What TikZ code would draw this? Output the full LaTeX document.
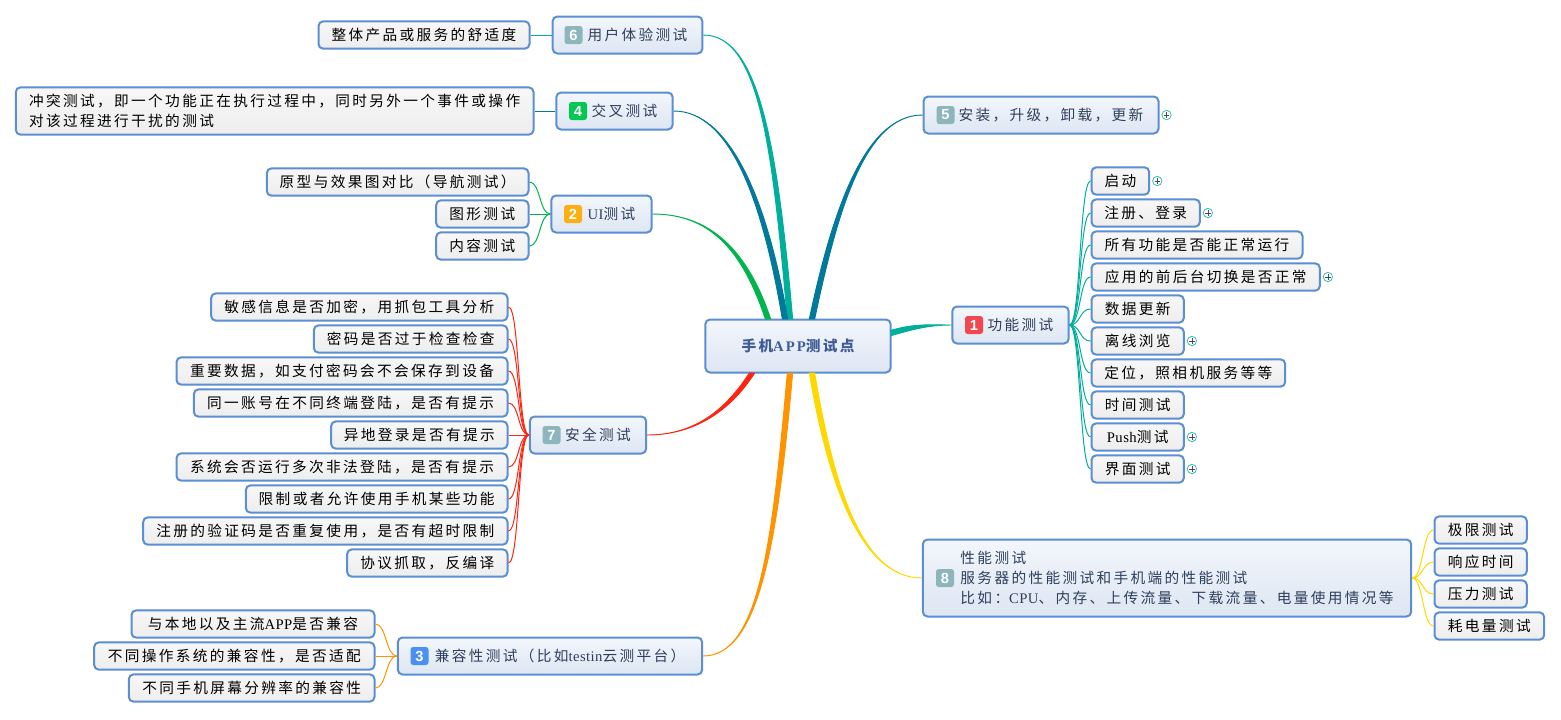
\documentclass[tikz,border=0pt]{standalone}
\usepackage{fontspec}
\usetikzlibrary{positioning}
\setmainfont{Noto Sans CJK SC}[LetterSpace=16]
\newfontfamily\latfont{Liberation Serif}[LetterSpace=3]
\newfontfamily\latwide{Liberation Serif}[LetterSpace=14]
\newfontfamily\badgefont{Liberation Sans}
\newcommand{\lat}[1]{{\latfont #1}}
\newcommand{\gap}{\hspace*{15pt}}
% tapered thick branch: colour, root point, two shifts, target, two controls
\newcommand{\limb}[7]{\draw[#1, fill=#1, line width=.7pt]
  ([#3]#2) .. controls ([#3]#6) and (#7) .. (#5) .. controls (#7) and ([#4]#6) .. ([#4]#2) -- cycle;}

\definecolor{edgeblue}{HTML}{5B8ED2}
\definecolor{subtext}{HTML}{2E3F5C}
\definecolor{roottext}{HTML}{3F5C96}
\definecolor{cteal}{HTML}{00AE9C}
\definecolor{cpetrol}{HTML}{00799A}
\definecolor{cgreen}{HTML}{00B44E}
\definecolor{cred}{HTML}{FF2410}
\definecolor{corange}{HTML}{FF9300}
\definecolor{cyellow}{HTML}{FFD800}
\definecolor{bred}{HTML}{F0484E}
\definecolor{bgrey}{HTML}{8DB6BC}
\definecolor{bgreen}{HTML}{00C853}
\definecolor{borange}{HTML}{FFAE12}
\definecolor{bblue}{HTML}{4A90F0}
\definecolor{subtop}{HTML}{F3F6FC}
\definecolor{subbot}{HTML}{DDE6F2}
\definecolor{foldteal}{HTML}{35BFAE}

\tikzstyle{every node}=[rounded corners=3.5pt, inner xsep=2pt, inner ysep=1pt,
                        font=\fontsize{11pt}{15pt}\selectfont]
\tikzstyle{root}=[draw=edgeblue, line width=1.5pt, top color=subtop,
                  bottom color=subbot, minimum width=139pt, minimum height=39.75pt,
                  text=roottext, font=\fontsize{11pt}{15pt}\selectfont\bfseries]
\tikzstyle{sub}=[draw=edgeblue, line width=1.5pt, top color=subtop,
                 bottom color=subbot, minimum height=27.75pt, text=subtext]
\tikzstyle{leaf}=[draw=edgeblue, line width=1.5pt, top color=white!97!black, bottom color=black!7,
                  minimum height=20.5pt, text=black]
\tikzstyle{badge}=[rounded corners=2pt, minimum size=13.5pt, inner sep=0pt, text=white,
                   font=\badgefont\fontsize{11pt}{11pt}\selectfont\bfseries]
\tikzstyle{fold}=[circle, draw=foldteal, fill=white, line width=.6pt, minimum size=7pt, inner sep=0pt,
                  path picture={\draw[black!70, line width=.5pt]
                    ([xshift=-2pt]path picture bounding box.center) -- ([xshift=2pt]path picture bounding box.center)
                    ([yshift=-2pt]path picture bounding box.center) -- ([yshift=2pt]path picture bounding box.center);}]
\tikzstyle{twig}=[line width=.75pt]

\begin{document}
\begin{tikzpicture}[x=.75pt,y=-.75pt]
  \useasboundingbox (0,0) rectangle (1561,719);

  \node[root] (test) at (798,346) {手机{\latwide APP}测试点};

  \node[sub, minimum width=87.25pt] (func) at (1010.5,325) {\gap 功能测试};
  \node[sub, minimum width=176.25pt] (inst) at (1041,115) {\gap 安装，升级，卸载，更新};
  \node[sub, minimum width=366.25pt, minimum height=57.75pt, align=left] (perf) at (1167,578)
    {\gap 性能测试\\\gap 服务器的性能测试和手机端的性能测试\\\gap 比如：\lat{CPU}、内存、上传流量、下载流量、电量使用情况等};
  \node[sub, minimum width=112.25pt] (user) at (627.5,35) {\gap 用户体验测试};
  \node[sub, minimum width=87.25pt] (cross) at (614.5,111) {\gap 交叉测试};
  \node[sub, minimum width=75.25pt] (ui) at (601.5,214) {\gap \lat{UI}测试};
  \node[sub, minimum width=87.25pt] (safe) at (588,435) {\gap 安全测试};
  \node[sub, minimum width=228.25pt] (comp) at (550,656) {\gap 兼容性测试（比如\lat{testin}云测平台）};

  \node[badge, fill=bred] (b1) at (974,325) {1};
  \node[badge, fill=bgrey] (b5) at (945.5,115) {5};
  \node[badge, fill=bgrey] (b8) at (945,578) {8};
  \node[badge, fill=bgrey] (b6) at (573.5,35) {6};
  \node[badge, fill=bgreen] (b4) at (578,111) {4};
  \node[badge, fill=borange] (b2) at (573,214) {2};
  \node[badge, fill=bgrey] (b7) at (551.5,435) {7};
  \node[badge, fill=bblue] (b3) at (419.5,656) {3};

  \node[leaf, anchor=west, minimum width=43.25pt] (f1) at (1090.5,181) {启动};
  \node[leaf, anchor=west, minimum width=81.25pt] (f2) at (1090.5,213) {注册、登录};
  \node[leaf, anchor=west, minimum width=158.25pt] (f3) at (1090.5,245) {所有功能是否能正常运行};
  \node[leaf, anchor=west, minimum width=171.25pt] (f4) at (1090.5,277) {应用的前后台切换是否正常};
  \node[leaf, anchor=west, minimum width=69.25pt] (f5) at (1090.5,309) {数据更新};
  \node[leaf, anchor=west, minimum width=69.25pt] (f6) at (1090.5,341) {离线浏览};
  \node[leaf, anchor=west, minimum width=145.25pt] (f7) at (1090.5,373) {定位，照相机服务等等};
  \node[leaf, anchor=west, minimum width=69.25pt] (f8) at (1090.5,405) {时间测试};
  \node[leaf, anchor=west, minimum width=69.25pt] (f9) at (1090.5,437) {\lat{Push}测试};
  \node[leaf, anchor=west, minimum width=69.25pt] (f10) at (1090.5,469) {界面测试};

  \node[fold, right=1.5pt of f1] (p1) {};
  \node[fold, right=1.5pt of f2] (p2) {};
  \node[fold, right=1.5pt of f4] (p4) {};
  \node[fold, right=1.5pt of f6] (p6) {};
  \node[fold, right=1.5pt of f9] (p9) {};
  \node[fold, right=1.5pt of f10] (p10) {};
  \node[fold, right=1.5pt of inst] (p0) {};

  \node[leaf, anchor=west, minimum width=69.25pt] (e1) at (1433.5,530) {极限测试};
  \node[leaf, anchor=west, minimum width=69.25pt] (e2) at (1433.5,562) {响应时间};
  \node[leaf, anchor=west, minimum width=69.25pt] (e3) at (1433.5,594) {压力测试};
  \node[leaf, anchor=west, minimum width=82.25pt] (e4) at (1433.5,626) {耗电量测试};

  \node[leaf, anchor=east, minimum width=158.25pt] (u1) at (530.5,35) {整体产品或服务的舒适度};
  \node[leaf, anchor=east, minimum width=388.25pt, minimum height=35.5pt, align=left] (x1) at (534.5,111)
    {冲突测试，即一个功能正在执行过程中，同时另外一个事件或操作\\对该过程进行干扰的测试};

  \node[leaf, anchor=east, minimum width=196.25pt] (g1) at (529.5,182) {原型与效果图对比（导航测试）};
  \node[leaf, anchor=east, minimum width=69.25pt] (g2) at (529.5,214) {图形测试};
  \node[leaf, anchor=east, minimum width=69.25pt] (g3) at (529.5,246) {内容测试};

  \node[leaf, anchor=east, minimum width=222.25pt] (s1) at (508.5,307) {敏感信息是否加密，用抓包工具分析};
  \node[leaf, anchor=east, minimum width=145.25pt] (s2) at (508.5,339) {密码是否过于检查检查};
  \node[leaf, anchor=east, minimum width=248.25pt] (s3) at (508.5,371) {重要数据，如支付密码会不会保存到设备};
  \node[leaf, anchor=east, minimum width=235.25pt] (s4) at (508.5,403) {同一账号在不同终端登陆，是否有提示};
  \node[leaf, anchor=east, minimum width=132.25pt] (s5) at (508.5,435) {异地登录是否有提示};
  \node[leaf, anchor=east, minimum width=248.25pt] (s6) at (508.5,467) {系统会否运行多次非法登陆，是否有提示};
  \node[leaf, anchor=east, minimum width=196.25pt] (s7) at (508.5,499) {限制或者允许使用手机某些功能};
  \node[leaf, anchor=east, minimum width=273.25pt] (s8) at (508.5,531) {注册的验证码是否重复使用，是否有超时限制};
  \node[leaf, anchor=east, minimum width=120.25pt] (s9) at (508.5,563) {协议抓取，反编译};

  \node[leaf, anchor=east, minimum width=182.25pt] (c1) at (375.5,624) {与本地以及主流\lat{APP}是否兼容};
  \node[leaf, anchor=east, minimum width=210.25pt] (c2) at (375.5,656) {不同操作系统的兼容性，是否适配};
  \node[leaf, anchor=east, minimum width=184.25pt] (c3) at (375.5,688) {不同手机屏幕分辨率的兼容性};

  \coordinate (r1) at (891,333);
  \coordinate (r5) at (812,319);
  \coordinate (r6) at (790,319);
  \coordinate (r4) at (785,319);
  \coordinate (r2) at (768,319);
  \coordinate (r7) at (752,373);
  \coordinate (r3) at (790,373);
  \coordinate (r8) at (812,373);

  \limb{cteal}{r1}{yshift=-2pt}{yshift=2pt}{func.west}{915,326}{930,325}
  \limb{cpetrol}{r5}{xshift=-2pt}{xshift=2pt}{inst.west}{835,210}{865,115}
  \limb{cteal}{r6}{xshift=-2pt}{xshift=2pt}{user.east}{775,150}{760,35}
  \limb{cpetrol}{r4}{xshift=-2pt}{xshift=2pt}{cross.east}{765,200}{730,111}
  \limb{cgreen}{r2}{xshift=-2pt}{xshift=2pt}{ui.east}{745,250}{710,214}
  \limb{cred}{r7}{xshift=-2pt}{xshift=2pt}{safe.east}{725,415}{690,435}
  \limb{corange}{r3}{xshift=-2pt}{xshift=2pt}{comp.east}{775,540}{760,656}
  \limb{cyellow}{r8}{xshift=-2pt}{xshift=2pt}{perf.west}{830,480}{860,578}

  \draw[twig, cteal] (func.east) .. controls +(11,0) and +(-11,0) .. (f1.west);
  \draw[twig, cteal] (func.east) .. controls +(11,0) and +(-11,0) .. (f2.west);
  \draw[twig, cteal] (func.east) .. controls +(11,0) and +(-11,0) .. (f3.west);
  \draw[twig, cteal] (func.east) .. controls +(11,0) and +(-11,0) .. (f4.west);
  \draw[twig, cteal] (func.east) .. controls +(11,0) and +(-11,0) .. (f5.west);
  \draw[twig, cteal] (func.east) .. controls +(11,0) and +(-11,0) .. (f6.west);
  \draw[twig, cteal] (func.east) .. controls +(11,0) and +(-11,0) .. (f7.west);
  \draw[twig, cteal] (func.east) .. controls +(11,0) and +(-11,0) .. (f8.west);
  \draw[twig, cteal] (func.east) .. controls +(11,0) and +(-11,0) .. (f9.west);
  \draw[twig, cteal] (func.east) .. controls +(11,0) and +(-11,0) .. (f10.west);

  \draw[twig, cyellow] (perf.east) .. controls +(11,0) and +(-11,0) .. (e1.west);
  \draw[twig, cyellow] (perf.east) .. controls +(11,0) and +(-11,0) .. (e2.west);
  \draw[twig, cyellow] (perf.east) .. controls +(11,0) and +(-11,0) .. (e3.west);
  \draw[twig, cyellow] (perf.east) .. controls +(11,0) and +(-11,0) .. (e4.west);

  \draw[twig, cteal] (user.west) -- (u1.east);
  \draw[twig, cpetrol] (cross.west) -- (x1.east);

  \draw[twig, cgreen] (ui.west) .. controls +(-11,0) and +(11,0) .. (g1.east);
  \draw[twig, cgreen] (ui.west) -- (g2.east);
  \draw[twig, cgreen] (ui.west) .. controls +(-11,0) and +(11,0) .. (g3.east);

  \draw[twig, cred] (safe.west) .. controls +(-11,0) and +(11,0) .. (s1.east);
  \draw[twig, cred] (safe.west) .. controls +(-11,0) and +(11,0) .. (s2.east);
  \draw[twig, cred] (safe.west) .. controls +(-11,0) and +(11,0) .. (s3.east);
  \draw[twig, cred] (safe.west) .. controls +(-11,0) and +(11,0) .. (s4.east);
  \draw[twig, cred] (safe.west) -- (s5.east);
  \draw[twig, cred] (safe.west) .. controls +(-11,0) and +(11,0) .. (s6.east);
  \draw[twig, cred] (safe.west) .. controls +(-11,0) and +(11,0) .. (s7.east);
  \draw[twig, cred] (safe.west) .. controls +(-11,0) and +(11,0) .. (s8.east);
  \draw[twig, cred] (safe.west) .. controls +(-11,0) and +(11,0) .. (s9.east);

  \draw[twig, corange] (comp.west) .. controls +(-11,0) and +(11,0) .. (c1.east);
  \draw[twig, corange] (comp.west) -- (c2.east);
  \draw[twig, corange] (comp.west) .. controls +(-11,0) and +(11,0) .. (c3.east);
\end{tikzpicture}
\end{document}
